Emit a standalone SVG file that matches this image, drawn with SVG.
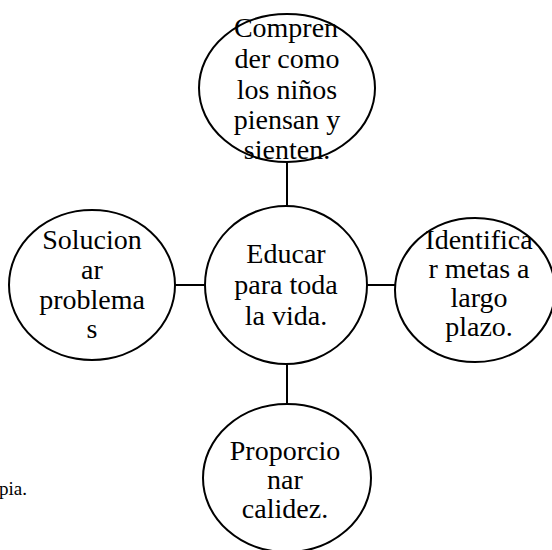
<svg xmlns="http://www.w3.org/2000/svg" width="552" height="550" viewBox="0 0 552 550">
<style>
.node ellipse{fill:#ffffff;stroke:#000000;stroke-width:2}
.lbl{font-family:"Liberation Serif","Times New Roman",serif;font-size:28px;fill:#000000;text-anchor:middle}
.conn line{stroke:#000000;stroke-width:2}
.note{font-family:"Liberation Serif","Times New Roman",serif;font-size:19px;fill:#000000;text-anchor:end}
</style>
<rect x="0" y="0" width="552" height="550" fill="#ffffff"/>
<g id="connectors" class="conn">
<line x1="287" y1="161" x2="287" y2="207"/>
<line x1="174" y1="285" x2="206" y2="285"/>
<line x1="366" y1="285" x2="396" y2="285"/>
<line x1="287" y1="363" x2="287" y2="405"/>
</g>
<g id="node-top" class="node">
<ellipse cx="287" cy="88" rx="88" ry="74"/>
<text class="lbl"><tspan x="286" y="37">Compren</tspan><tspan x="287" y="68">der como</tspan><tspan x="287" y="99">los niños</tspan><tspan x="287" y="129">piensan y</tspan><tspan x="287" y="159">sienten.</tspan></text>
</g>
<g id="node-center" class="node">
<ellipse cx="286" cy="285" rx="81" ry="79"/>
<text class="lbl"><tspan x="286" y="263">Educar</tspan><tspan x="286" y="294">para toda</tspan><tspan x="286" y="325">la vida.</tspan></text>
</g>
<g id="node-left" class="node">
<ellipse cx="92" cy="285" rx="83" ry="75"/>
<text class="lbl"><tspan x="92" y="249">Solucion</tspan><tspan x="92" y="279">ar</tspan><tspan x="92" y="309">problema</tspan><tspan x="92" y="338">s</tspan></text>
</g>
<g id="node-right" class="node">
<ellipse cx="475" cy="290" rx="80" ry="72"/>
<text class="lbl"><tspan x="479" y="249">Identifica</tspan><tspan x="479" y="278">r metas a</tspan><tspan x="479" y="307">largo</tspan><tspan x="479" y="336">plazo.</tspan></text>
</g>
<g id="node-bottom" class="node">
<ellipse cx="287" cy="478" rx="84" ry="74"/>
<text class="lbl"><tspan x="285" y="460">Proporcio</tspan><tspan x="285" y="489">nar</tspan><tspan x="285" y="518">calidez.</tspan></text>
</g>
<text class="note" x="27" y="495">pia.</text>
</svg>
